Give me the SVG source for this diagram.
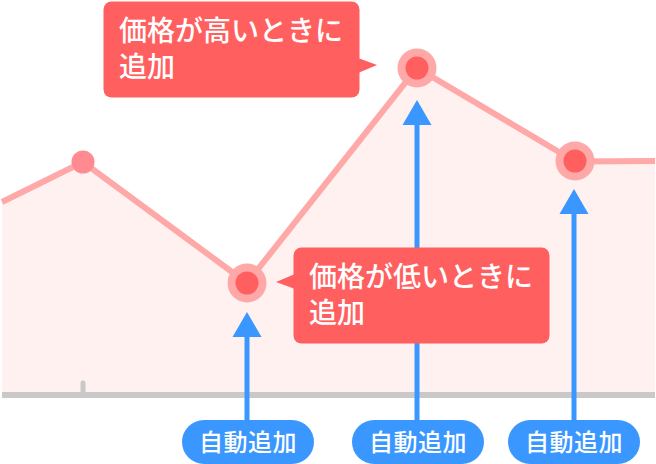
<svg xmlns="http://www.w3.org/2000/svg" width="656" height="464" viewBox="0 0 656 464">
<style>
text{font-family:"Noto Sans CJK JP","Noto Sans",sans-serif;fill:#fff;font-weight:500}
.c{font-size:28px}
.p{font-size:24px;letter-spacing:.5px;text-anchor:middle}
.call{fill:#ff5f5f}
.pill{fill:#3a97ff}
.ring{fill:#ffa8a8}
.dot{fill:#ff5f5f}
.shaft{stroke:#3a97ff;stroke-width:5;fill:none}
.head{fill:#3a97ff}
</style>
<rect width="656" height="464" fill="#fff"/>
<g id="chart">
<path d="M2 202L83 162L247 283L417 68L575 161L655 161V393H2Z" fill="#fff1f0"/>
<path d="M2 202L83 162L247 283L417 68L575 161.500L655 161" fill="none" stroke="#ffa8a8" stroke-width="6"/>
<path d="M83 393V383" stroke="#c9c9c9" stroke-width="5" stroke-linecap="round" fill="none"/>
<rect x="2" y="392" width="653" height="6" fill="#c9c9c9"/>
</g>
<g id="point-plain"><circle cx="83" cy="162" r="11.500" fill="#ff8a8f"/></g>
<g id="point-low"><circle class="ring" cx="247" cy="283" r="19.500"/><circle class="dot" cx="247" cy="283" r="11.500"/></g>
<g id="point-high"><circle class="ring" cx="417" cy="68" r="19.500"/><circle class="dot" cx="417" cy="68" r="11.500"/></g>
<g id="point-mid"><circle class="ring" cx="575" cy="161" r="19.500"/><circle class="dot" cx="575" cy="161" r="11.500"/></g>
<g id="connectors">
<path class="shaft" d="M247 335V421"/><path class="head" d="M247 312L261.500 337H232.500Z"/>
<path class="shaft" d="M417 123V421"/><path class="head" d="M417 100L431.500 125H402.500Z"/>
<path class="shaft" d="M574 212V421"/><path class="head" d="M574 189L588.500 214H559.500Z"/>
</g>
<g id="callout-high">
<rect class="call" x="103.500" y="1.500" width="256" height="96" rx="8"/>
<path class="call" d="M358 58L377 65L358 73Z"/>
<text class="c" x="119" y="41">価格が高いときに<tspan x="119" y="77">追加</tspan></text>
</g>
<g id="callout-low">
<rect class="call" x="293.500" y="247.500" width="256" height="96" rx="8"/>
<path class="call" d="M295 274L276 282L295 289Z"/>
<text class="c" x="309" y="287">価格が低いときに<tspan x="309" y="323">追加</tspan></text>
</g>
<g id="pill-1"><rect class="pill" x="182" y="420" width="132" height="44" rx="22"/><text class="p" x="248" y="451">自動追加</text></g>
<g id="pill-2"><rect class="pill" x="352" y="420" width="132" height="44" rx="22"/><text class="p" x="418" y="451">自動追加</text></g>
<g id="pill-3"><rect class="pill" x="508" y="420" width="132" height="44" rx="22"/><text class="p" x="574" y="451">自動追加</text></g>
</svg>
